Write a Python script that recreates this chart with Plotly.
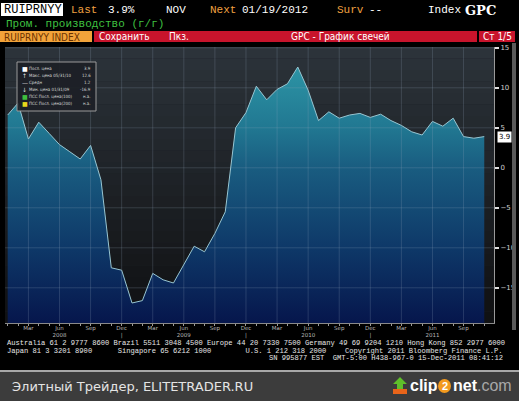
import plotly.graph_objects as go

# ---------------- data ----------------
months = ["Jan", "Feb", "Mar", "Apr", "May", "Jun", "Jul", "Aug", "Sep", "Oct", "Nov", "Dec"]
start_year = 2008
# Russian industrial production y/y, monthly Jan 2008 .. Nov 2011
values = [6.6, 8.1, 3.6, 5.7, 4.3, 2.9, 2.0, 1.1, 2.8, -1.5, -12.5, -12.8,
          -16.9, -16.6, -13.2, -14.0, -14.4, -12.1, -9.8, -10.5, -8.2, -5.5, 5.0, 6.9,
          10.2, 8.5, 9.8, 10.5, 12.6, 9.7, 5.9, 7.0, 6.2, 6.6, 6.8, 6.3,
          6.7, 5.9, 5.3, 4.5, 4.1, 5.8, 5.2, 6.2, 3.9, 3.7, 3.9]
y_tick_vals = [15, 10, 5, 0, -5, -10, -15]
y_tick_text = ["15", "10", "5", "0", "\u2212" + "5", "\u2212" + "10", "\u2212" + "15"]
legend_labels = ["Посл. цена", "Макс. цена 05/31/10", "Средн", "Мин. цена 01/31/09",
                 "ПСС Посл. цена(100)", "ПСС Посл. цена(200)"]
legend_values = ["3.9", "12.6", "1.2", "-16.9", "н.а.", "н.а."]
legend_icons = ["■", "↑", "—", "↓", "■", "■"]
legend_icon_colors = ["#ffffff", "#dddddd", "#dddddd", "#dddddd", "#3fbf3f", "#e8d81c"]
last_label = "3.9"

Y_MIN, Y_MAX = -19.4, 15.1
X_MIN, X_MAX = -0.26, 46.94

x = list(range(len(values)))
tick_pos = [i for i in x if i % 3 == 2]
tick_txt = []
for i in tick_pos:
    m = months[i % 12]
    if m == "Jun":
        tick_txt.append(f"{m}<br>{start_year + i // 12}")
    elif m == "Dec":
        tick_txt.append(f"{m}<br>|")
    else:
        tick_txt.append(m)

# ---------------- geometry helpers (pixel -> paper) ----------------
FW, FH = 519, 401
L, R, T, B = 5, 494, 47, 323
PW, PH = R - L, B - T


def px(v):
    return (v - L) / PW


def py(v):
    return (B - v) / PH


fig = go.Figure()

# baseline at axis bottom so the fill reaches the plot floor
fig.add_trace(go.Scatter(x=x, y=[Y_MIN] * len(x), mode="lines",
                         line=dict(width=0, color="rgba(0,0,0,0)"),
                         hoverinfo="skip", showlegend=False))
fig.add_trace(go.Scatter(
    x=x, y=values, mode="lines", fill="tonexty",
    line=dict(color="#98c6d2", width=1),
    fillgradient=dict(type="vertical", start=Y_MIN, stop=Y_MAX,
                      colorscale=[[0.0, "#06164c"], [0.27, "#0e3868"],
                                  [0.56, "#195c80"], [0.71, "#217892"],
                                  [0.92, "#2c93a4"], [1.0, "#2f98a8"]]),
    showlegend=False))

shapes = []
# plot background gradient bands
nb = 24
c_top = (44, 51, 58)
c_bot = (16, 17, 19)
for k in range(nb):
    t = k / (nb - 1)
    c = tuple(int(c_top[j] + (c_bot[j] - c_top[j]) * t) for j in range(3))
    y1 = Y_MAX - (Y_MAX - Y_MIN) * k / nb
    y0 = Y_MAX - (Y_MAX - Y_MIN) * (k + 1) / nb
    shapes.append(dict(type="rect", xref="paper", yref="y", x0=0, x1=1, y0=y0, y1=y1,
                       fillcolor=f"rgb{c}", line=dict(width=0), layer="below"))

# grid lines drawn above the fill, as in the reference
GRID = "rgba(150,170,190,0.22)"
for v in tick_pos:
    shapes.append(dict(type="line", xref="x", yref="paper", x0=v, x1=v, y0=0, y1=1,
                       line=dict(color=GRID, width=1), layer="above"))
for v in y_tick_vals:
    shapes.append(dict(type="line", xref="paper", yref="y", x0=0, x1=1, y0=v, y1=v,
                       line=dict(color=GRID, width=1), layer="above"))

# header bars
shapes += [
    dict(type="rect", xref="paper", yref="paper", x0=px(1), x1=px(63), y0=py(16), y1=py(3),
         fillcolor="#ffffff", line=dict(width=0)),
    dict(type="rect", xref="paper", yref="paper", x0=px(0), x1=px(92), y0=py(42), y1=py(31),
         fillcolor="#f2a33a", line=dict(width=0)),
    dict(type="rect", xref="paper", yref="paper", x0=px(94), x1=px(477), y0=py(42), y1=py(31),
         fillcolor="#c8142c", line=dict(width=0)),
    dict(type="rect", xref="paper", yref="paper", x0=px(479), x1=px(515), y0=py(42), y1=py(31),
         fillcolor="#c8142c", line=dict(width=0)),
    # scrollbar
    dict(type="rect", xref="paper", yref="paper", x0=px(512), x1=px(516), y0=py(330), y1=py(43),
         fillcolor="#5a5a5a", line=dict(width=0)),
    # legend box
    dict(type="rect", xref="paper", yref="paper", x0=px(17), x1=px(96), y0=py(111), y1=py(62),
         fillcolor="rgba(28,32,38,0.92)", line=dict(color="#9a9a9a", width=1)),
    # bottom watermark bar
    dict(type="rect", xref="paper", yref="paper", x0=px(0), x1=px(FW), y0=py(FH), y1=py(372),
         fillcolor="#3c3c3c", line=dict(width=0)),
    dict(type="line", xref="paper", yref="paper", x0=px(0), x1=px(FW), y0=py(371), y1=py(371),
         line=dict(color="#e0e0e0", width=1.5)),
    # clip2net orange circle
    dict(type="circle", xref="paper", yref="paper", x0=px(438), x1=px(451), y0=py(393), y1=py(379),
         fillcolor="#f39a1e", line=dict(width=0)),
]
# clip2net arrow icon
arrow = [(400, 377), (407, 384), (403, 384), (403, 389), (397, 389), (397, 384), (393, 384)]
path = "M " + " L ".join(f"{px(a)},{py(b)}" for a, b in arrow) + " Z"
shapes.append(dict(type="path", xref="paper", yref="paper", path=path,
                   fillcolor="#5fbf2a", line=dict(width=0)))
base = [(393, 389), (407, 389), (407, 394), (393, 394)]
path2 = "M " + " L ".join(f"{px(a)},{py(b)}" for a, b in base) + " Z"
shapes.append(dict(type="path", xref="paper", yref="paper", path=path2,
                   fillcolor="#e8641a", line=dict(width=0)))

ann = []


def text(s, x0, y0, size=11, color="#ffffff", family="Liberation Mono", anchor="left", bold=False):
    ann.append(dict(text=f"<b>{s}</b>" if bold else s, x=px(x0), y=py(y0),
                    xref="paper", yref="paper", xanchor=anchor, yanchor="middle",
                    showarrow=False, font=dict(size=size, color=color, family=family)))


OR = "#f0a040"
text("RUIPRNYY", 2, 10, size=12, color="#000000")
text("Last", 69, 10, color=OR)
text("3.9%", 106, 10)
text("NOV", 164, 10)
text("Next", 208, 10, color=OR)
text("01/19/2012", 240, 10)
text("Surv", 335, 10, color=OR)
text("--", 367, 10)
text("Index", 426, 10)
text("GPC", 463, 10, size=13, family="DejaVu Serif", bold=True)
text("Пром. производство (г/г)", 4, 24, color="#3fc040")
text("RUIPRNYY INDEX", 2, 37, size=10, color="#6a3200", family="DejaVu Sans Condensed")
text("Сохранить", 97, 36.5, size=10, family="DejaVu Sans Condensed")
text("Пкз.", 167, 36.5, size=10, family="DejaVu Sans Condensed")
text("GPC - График свечей", 340, 36.5, size=10, family="DejaVu Sans Condensed", anchor="center")
text("Ст 1/5", 497, 36.5, size=10, family="DejaVu Sans Condensed", anchor="center")

# legend box contents
rows_y = [68, 75, 82.5, 89.5, 96.5, 103.5]
for lab, val, ic, icc, yy in zip(legend_labels, legend_values, legend_icons, legend_icon_colors, rows_y):
    text(ic, 20, yy, size=6, color=icc, family="DejaVu Sans")
    text(lab, 27, yy, size=4.4, color="#d8d8d8", family="DejaVu Sans Condensed")
    text(val, 93, yy, size=4.4, color="#d8d8d8", family="DejaVu Sans Condensed", anchor="right")

# last value tag on right axis
ann.append(dict(text=last_label, x=1, y=values[-1], xref="paper", yref="y",
                xanchor="left", yanchor="middle", xshift=3, showarrow=False,
                bgcolor="#ffffff", borderpad=1,
                font=dict(size=7, color="#000000", family="DejaVu Sans")))

# footer
FC = "#e6e6e6"
NB = "\u00a0"
text("Australia 61 2 9777 8600 Brazil 5511 3048 4500 Europe 44 20 7330 7500 Germany 49 69 9204 1210 Hong Kong 852 2977 6000",
     5, 342.5, size=7.1, color=FC)
text("Japan 81 3 3201 8900" + NB * 6 + "Singapore 65 6212 1000" + NB * 8 + "U.S. 1 212 318 2000",
     5, 350.5, size=7.1, color=FC)
text("Copyright 2011 Bloomberg Finance L.P.", 505, 350.5, size=7.1, color=FC, anchor="right")
text("SN 995877 EST" + NB * 2 + "GMT-5:00 H438-967-0 15-Dec-2011 08:41:12", 505, 357.5,
     size=7.1, color=FC, anchor="right")

# watermark bar
text("Элитный Трейдер, ELITETRADER.RU", 10, 386, size=13, color="#e4e4e4", family="DejaVu Sans")
text("clip", 408, 385, size=16, color="#ffffff", family="Liberation Sans", bold=True)
text("2", 444.5, 386, size=11, color="#ffffff", family="Liberation Sans", anchor="center", bold=True)
text("net", 451, 385, size=16, color="#ffffff", family="Liberation Sans", bold=True)
text(".com", 475, 385, size=16, color="#a8a8a8", family="Liberation Sans")

fig.update_layout(
    width=FW, height=FH,
    margin=dict(l=L, r=FW - R, t=T, b=FH - B, pad=0),
    paper_bgcolor="#000000", plot_bgcolor="#1c2026",
    shapes=shapes, annotations=ann, showlegend=False,
    xaxis=dict(range=[X_MIN, X_MAX], tickmode="array", tickvals=tick_pos, ticktext=tick_txt,
               showgrid=False, zeroline=False, showline=True, linecolor="#8a8a8a", linewidth=1,
               ticks="outside", ticklen=2, tickcolor="#9a9a9a", ticklabelstandoff=-3,
               tickfont=dict(size=5.5, color="#b8b8b8", family="DejaVu Sans"),
               minor=dict(tickmode="linear", tick0=0, dtick=1, ticks="outside", ticklen=2,
                          tickcolor="#9a9a9a", showgrid=False),
               fixedrange=True),
    yaxis=dict(range=[Y_MIN, Y_MAX], side="right", tickmode="array",
               tickvals=y_tick_vals, ticktext=y_tick_text,
               showgrid=False, zeroline=False, showline=True, linecolor="#9a9a9a", linewidth=1,
               ticks="outside", ticklen=4, tickcolor="#e0e0e0", tickwidth=1.5,
               tickfont=dict(size=7, color="#d0d0d0", family="DejaVu Sans"),
               fixedrange=True),
)

fig.write_html("out.html", config={"displayModeBar": False},
               post_script="document.body.style.margin='0';document.body.style.background='#000';")
